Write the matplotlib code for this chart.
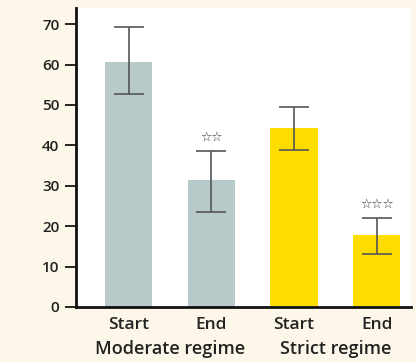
import matplotlib
matplotlib.use("Agg")
import matplotlib.pyplot as plt

categories = ["Start", "End", "Start", "End"]
groups = ["Moderate regime", "Strict regime"]
values = [60.7, 31.4, 44.3, 17.8]
err_low = [52.7, 23.4, 38.9, 13.0]
err_high = [69.2, 38.5, 49.4, 21.9]
stars = ["", "☆☆", "", "☆☆☆"]
colors = ["#b7c9c9", "#b7c9c9", "#ffdd00", "#ffdd00"]
yticks = [0, 10, 20, 30, 40, 50, 60, 70]

font = ["Open Sans", "DejaVu Sans"]
plt.rcParams['font.family'] = font

fig = plt.figure(figsize=(4.16, 3.62), dpi=100, facecolor="#fdf7e9")
ax = fig.add_axes([0.183, 0.152, 0.805, 0.826])
ax.set_facecolor("white")

x = list(range(len(values)))
yerr = [[v - lo for v, lo in zip(values, err_low)], [hi - v for v, hi in zip(values, err_high)]]
ax.bar(x, values, width=0.57, color=colors, zorder=2)
ax.errorbar(x, values, yerr=yerr, fmt="none", ecolor="#555555", elinewidth=1.2,
            capsize=11, capthick=1.2, zorder=3)
for xi, hi, s in zip(x, err_high, stars):
    if s:
        ax.text(xi, hi + 2.0, s, ha="center", va="bottom", fontsize=9,
                color="#333333", family=["DejaVu Sans"])

ax.set_xlim(-0.635, 3.416)
ax.set_ylim(0, 74)
ax.set_yticks(yticks)
ax.set_yticklabels([str(t) for t in yticks], fontsize=11, color="#222222", fontweight="semibold")
ax.set_xticks(x)
ax.set_xticklabels(categories, fontsize=12.5, color="#222222", fontweight="semibold")
ax.tick_params(axis="x", length=0, pad=7)
ax.tick_params(axis="y", length=8, width=1.2, direction="out", pad=4)

for s in ["top", "right"]:
    ax.spines[s].set_visible(False)
ax.spines["left"].set_linewidth(2)
ax.spines["bottom"].set_linewidth(2)
ax.spines["left"].set_color("#111111")
ax.spines["bottom"].set_color("#111111")

for gi, g in enumerate(groups):
    cx = (x[2 * gi] + x[2 * gi + 1]) / 2
    ax.text(cx, -0.112, g, transform=ax.get_xaxis_transform(), ha="center",
            va="top", fontsize=13, color="#222222", fontweight="semibold")

fig.savefig("out.png", dpi=100, facecolor=fig.get_facecolor())
